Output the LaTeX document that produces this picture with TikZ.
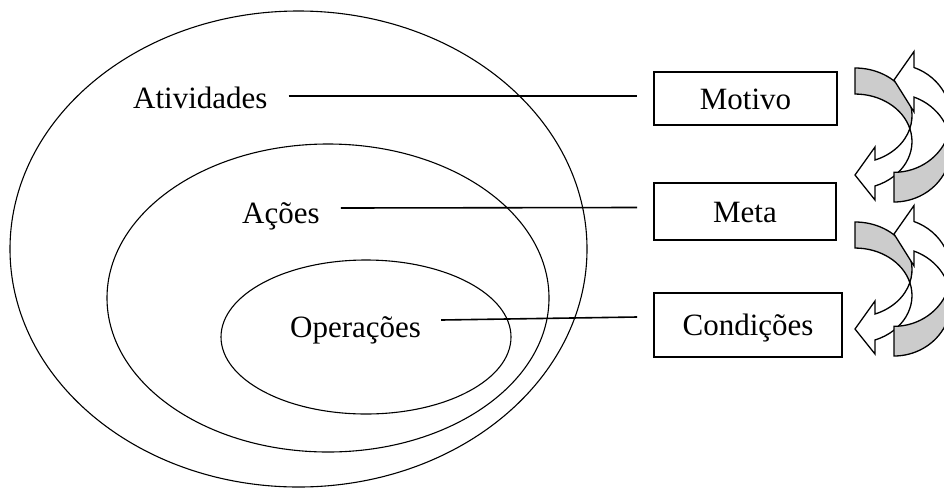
\documentclass[tikz,border=0pt]{standalone}
\usepackage{fontspec}
\setmainfont{Liberation Serif}
\usetikzlibrary{calc}
\definecolor{arrgray}{RGB}{204,204,204}
\newcommand{\carrowshape}{%
  \filldraw[arrline, fill=arrgray] (0,0) arc (-90:15.9:57 and 47.5) arc (-15.9:-90:57 and 47.5) -- cycle;
  \filldraw[arrline, fill=white] (54.8,60.5) arc (-15.9:69.5:57 and 47.5) -- (20,132) -- (0,107) -- (20,79) -- (20,92) arc (69.5:15.9:57 and 47.5) -- cycle;
}
\begin{document}
\begin{tikzpicture}[x=1pt,y=-1pt,
  ell/.style={line width=1.1pt},
  lbl/.style={anchor=base west, inner sep=0pt, font=\fontsize{31}{36}\selectfont},
  boxnode/.style={draw, line width=1.6pt, inner sep=0pt, text height=21pt, text depth=0pt, font=\fontsize{31}{36}\selectfont},
  conn/.style={line width=1.6pt},
  arrline/.style={line width=1.3pt, line join=miter},
]
\useasboundingbox (0,0) rectangle (944,488);
\fill[white] (0,0) rectangle (944,488);
% ellipses
\draw[ell] (298.5,249) ellipse (288.5 and 238);
\draw[ell] (328,298) ellipse (221 and 154);
\draw[ell] (366,337) ellipse (145 and 77);
% labels
\node[lbl] (atv) at (133,108) {Atividades};
\node[lbl] (acoes) at (242,223) {Ações};
\node[lbl] (oper) at (290,337) {Operações};
% boxes
\node[boxnode, minimum width=183pt, minimum height=53pt] (motivo) at (745.5,98.5) {Motivo};
\node[boxnode, minimum width=182pt, minimum height=57pt] (meta) at (745,211.5) {Meta};
\node[boxnode, minimum width=188pt, minimum height=64pt] (cond) at (748,325) {Condições};
% connectors
\draw[conn] ([shift={(21,-12)}]atv.base east) -- ([shift={(-16,-2.5)}]motivo.west);
\draw[conn] ([shift={(21,-15)}]acoes.base east) -- ([shift={(-16,-4)}]meta.west);
\draw[conn] ([shift={(20,-17)}]oper.base east) -- ([shift={(-16,-8)}]cond.west);
% curved arrows
\begin{scope}[shift={(855,68)}] \carrowshape \end{scope}
\begin{scope}[shift={(894,202)}, yscale=-1.14] \carrowshape \end{scope}
\begin{scope}[shift={(855,222)}] \carrowshape \end{scope}
\begin{scope}[shift={(894,356)}, yscale=-1.14] \carrowshape \end{scope}
\end{tikzpicture}
\end{document}
